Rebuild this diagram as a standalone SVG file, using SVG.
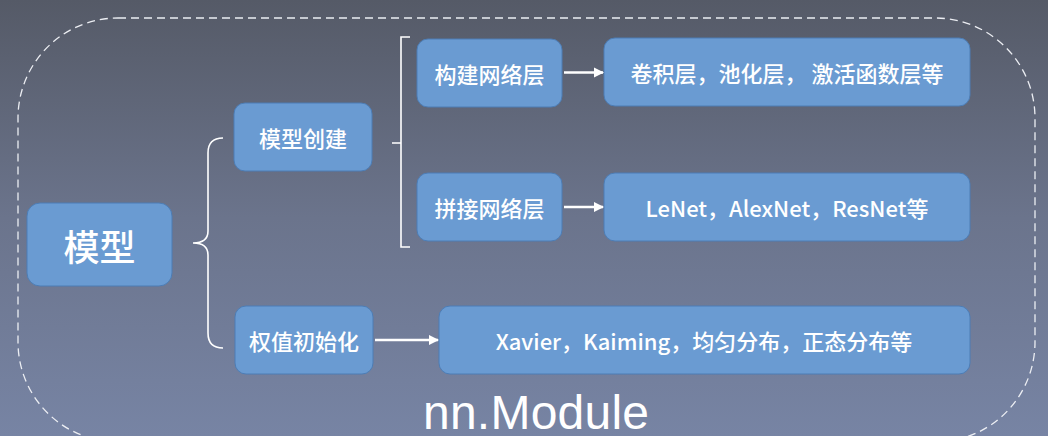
<svg xmlns="http://www.w3.org/2000/svg" width="1048" height="436" viewBox="0 0 1048 436">
<defs>
<linearGradient id="bg" x1="0" y1="0" x2="0" y2="1">
<stop offset="0" stop-color="#555a67"/>
<stop offset="0.5" stop-color="#6b748c"/>
<stop offset="1" stop-color="#7784a4"/>
</linearGradient>
<linearGradient id="topline" x1="0" y1="0" x2="1" y2="0">
<stop offset="0" stop-color="#ffffff" stop-opacity="1"/>
<stop offset="0.6" stop-color="#ffffff" stop-opacity="0.8"/>
<stop offset="1" stop-color="#ffffff" stop-opacity="0"/>
</linearGradient>
<marker id="ah" viewBox="0 0 10 10" refX="9" refY="5" markerWidth="4" markerHeight="4" orient="auto" markerUnits="strokeWidth">
<path d="M0,0 L10,5 L0,10 z" fill="#ffffff"/>
</marker>
<style>
.box{fill:#6a9bd2;stroke:#4d7db5;stroke-width:1}
.t{fill:#ffffff;font-family:"Noto Sans CJK SC","Microsoft YaHei",sans-serif;font-size:22px;font-weight:500;text-anchor:middle;dominant-baseline:central}
.br{fill:none;stroke:#ffffff;stroke-width:1.6}
.ar{fill:none;stroke:#ffffff;stroke-width:2.6;marker-end:url(#ah)}
</style>
</defs>
<rect x="0" y="0" width="1048" height="436" fill="url(#bg)"/>
<line x1="39" y1="5.5" x2="305" y2="5.5" stroke="url(#topline)" stroke-width="1.2"/>
<rect id="frame" x="18" y="18" width="1017" height="424" rx="100" ry="100" fill="none" stroke="#eceef3" stroke-width="1.3" stroke-dasharray="8 5"/>

<g id="node-model">
<rect class="box" x="27" y="203" width="145" height="83" rx="13"/>
<text class="t" x="99.5" y="245" style="font-size:36px">模型</text>
</g>
<g id="node-create">
<rect class="box" x="234" y="103" width="138" height="68" rx="11"/>
<text class="t" x="303" y="137">模型创建</text>
</g>
<g id="node-build">
<rect class="box" x="417" y="39" width="145" height="68" rx="11"/>
<text class="t" x="489.5" y="73">构建网络层</text>
</g>
<g id="node-concat">
<rect class="box" x="417" y="173" width="145" height="68" rx="11"/>
<text class="t" x="489.5" y="207">拼接网络层</text>
</g>
<g id="node-layers">
<rect class="box" x="604" y="38" width="366" height="68" rx="11"/>
<text class="t" x="787" y="72">卷积层，池化层， 激活函数层等</text>
</g>
<g id="node-nets">
<rect class="box" x="604" y="173" width="366" height="68" rx="11"/>
<text class="t" x="787" y="207">LeNet，AlexNet，ResNet等</text>
</g>
<g id="node-init">
<rect class="box" x="235" y="306" width="138" height="68" rx="11"/>
<text class="t" x="304" y="340">权值初始化</text>
</g>
<g id="node-initmethods">
<rect class="box" x="439" y="306" width="531" height="68" rx="11"/>
<text class="t" x="704" y="340">Xavier，Kaiming，均匀分布，正态分布等</text>
</g>

<g id="connectors">
<path class="br" d="M223,138 Q208,138 208,153 L208,231 Q208,243 193,243 Q208,243 208,255 L208,333 Q208,348 223,348"/>
<path class="br" d="M410,37 L401,37 L401,247 L410,247 M401,143 L392,143"/>
<line class="ar" x1="564" y1="72.5" x2="603" y2="72.5"/>
<line class="ar" x1="564" y1="207" x2="603" y2="207"/>
<line class="ar" x1="375" y1="340" x2="438" y2="340"/>
</g>

<text id="label-module" x="423" y="429" fill="#ffffff" font-family="Liberation Sans, Arial, sans-serif" font-size="48" textLength="226">nn.Module</text>
</svg>
